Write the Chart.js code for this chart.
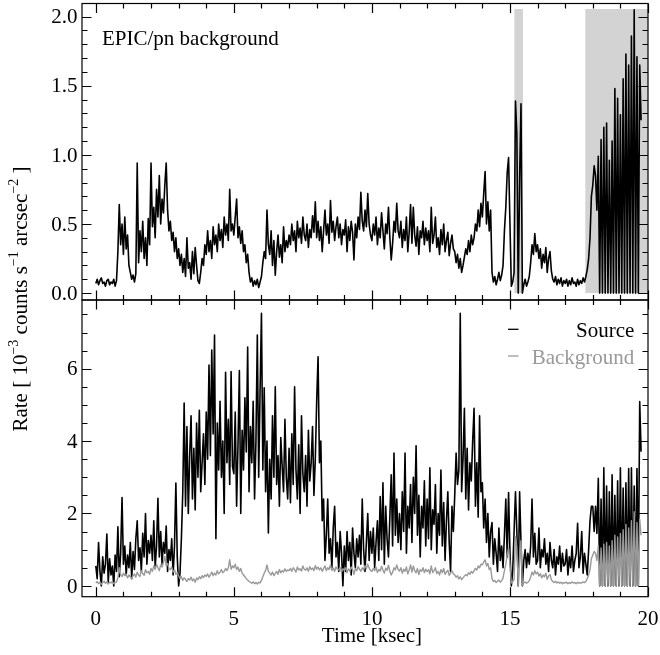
<!DOCTYPE html>
<html>
<head>
<meta charset="utf-8">
<title>EPIC/pn light curve</title>
<script src="https://cdn.jsdelivr.net/npm/chart.js@4.4.0/dist/chart.umd.min.js"></script>
<style>
  html, body { margin: 0; padding: 0; background: #fff; }
  #wrap { position: relative; width: 660px; height: 655px; }
  #wrap canvas { position: absolute; left: 0; top: 0; }
</style>
</head>
<body>
<div id="wrap">
  <canvas id="topPanel" width="660" height="655"></canvas>
  <canvas id="bottomPanel" width="660" height="655"></canvas>
</div>
<script>
// light curve bins are 50 s wide, first bin at t = 0 (ksec)
const binWidth = 0.05;

const timeTicks = [0, 5, 10, 15, 20];
const topRateTicks = [0.0, 0.5, 1.0, 1.5, 2.0];
const bottomRateTicks = [0, 2, 4, 6];

// intervals flagged for high background (ksec)
const flareStart = [15.16, 17.73];
const flareEnd = [15.47, 20.0];
const flareTop = 2.055;

// EPIC/pn background rate, one line = 1 ksec
const topRate = [
  0.07,0.10,0.06,0.09,0.11,0.07,0.08,0.05,0.09,0.10,0.06,0.08,0.07,0.10,0.05,0.09,0.30,0.64,0.35,0.50,
  0.28,0.55,0.32,0.42,0.20,0.15,0.10,0.13,0.08,0.14,0.94,0.22,0.45,0.30,0.52,0.25,0.40,0.20,0.54,0.35,
  0.94,0.48,0.62,0.40,0.75,0.55,0.85,0.50,0.68,0.58,0.78,0.94,0.60,0.45,0.52,0.38,0.44,0.30,0.40,0.25,
  0.32,0.20,0.28,0.15,0.25,0.12,0.40,0.18,0.22,0.10,0.30,0.14,0.33,0.20,0.09,0.07,0.15,0.25,0.20,0.35,
  0.28,0.45,0.30,0.38,0.25,0.48,0.35,0.42,0.30,0.50,0.38,0.46,0.33,0.55,0.42,0.50,0.38,0.75,0.45,0.50,
  0.42,0.55,0.68,0.40,0.48,0.36,0.45,0.30,0.35,0.22,0.28,0.15,0.08,0.11,0.05,0.09,0.06,0.10,0.04,0.08,
  0.12,0.22,0.30,0.25,0.60,0.35,0.28,0.45,0.20,0.38,0.13,0.30,0.42,0.26,0.35,0.22,0.48,0.30,0.38,0.33,
  0.42,0.35,0.50,0.38,0.45,0.30,0.52,0.40,0.47,0.36,0.55,0.42,0.38,0.50,0.33,0.46,0.40,0.56,0.44,0.66,
  0.40,0.52,0.38,0.48,0.30,0.45,0.60,0.42,0.50,0.36,0.67,0.44,0.52,0.38,0.48,0.55,0.40,0.50,0.35,0.46,
  0.42,0.53,0.30,0.48,0.38,0.52,0.44,0.24,0.50,0.40,0.55,0.46,0.73,0.52,0.45,0.60,0.48,0.72,0.50,0.42,
  0.38,0.50,0.42,0.55,0.35,0.47,0.40,0.58,0.45,0.32,0.50,0.43,0.62,0.40,0.24,0.36,0.52,0.44,0.65,0.45,
  0.40,0.52,0.33,0.46,0.38,0.55,0.30,0.44,0.64,0.36,0.62,0.42,0.34,0.48,0.28,0.45,0.40,0.52,0.35,0.47,
  0.38,0.45,0.30,0.62,0.36,0.42,0.55,0.33,0.40,0.28,0.46,0.35,0.50,0.30,0.38,0.44,0.27,0.36,0.42,0.32,
  0.30,0.22,0.28,0.18,0.25,0.15,0.20,0.26,0.32,0.28,0.38,0.30,0.42,0.35,0.40,0.50,0.45,0.60,0.48,0.65,
  0.55,0.72,0.88,0.50,0.66,0.45,0.60,0.15,0.08,0.12,0.06,0.10,0.15,0.09,0.13,0.20,0.45,0.62,0.87,0.98,
  0.50,0.05,0.08,0.15,1.39,1.15,0.00,0.82,1.37,0.00,0.06,0.10,0.05,0.08,0.12,0.22,0.35,0.28,0.43,0.30,
  0.35,0.25,0.32,0.18,0.28,0.22,0.33,0.15,0.25,0.30,0.16,0.10,0.08,0.12,0.06,0.10,0.07,0.11,0.05,0.09,
  0.07,0.10,0.05,0.09,0.06,0.11,0.07,0.08,0.05,0.10,0.06,0.09,0.07,0.11,0.08,0.12,0.17,0.25,0.40,0.70,
  0.78,0.92,0.85,0.60,0.99,0.00,1.11,0.00,1.20,0.00,1.23,0.00,0.96,0.00,1.10,0.00,1.48,0.00,1.41,0.00,
  1.29,0.00,1.55,0.00,1.73,0.00,1.65,0.00,1.86,0.00,2.05,0.00,1.71,0.00,1.65,1.25
];

// source rate, same bins
const sourceRate = [
  0.55,0.20,1.20,0.40,0.00,0.80,0.35,0.60,1.43,0.10,0.75,0.30,0.55,0.00,0.85,0.40,1.63,0.25,0.90,2.44,
  0.60,1.10,0.30,0.85,0.50,1.20,0.20,0.95,0.45,1.30,1.80,0.70,1.05,0.40,1.45,0.80,2.00,0.60,1.25,0.90,
  1.40,0.70,1.80,0.50,1.10,2.42,0.80,1.50,0.60,1.20,0.90,1.65,0.40,1.00,0.70,1.30,0.30,1.10,2.84,0.80,
  0.00,0.35,1.30,2.60,5.05,2.20,4.40,2.00,3.60,4.70,2.40,3.80,2.10,4.50,3.00,4.85,2.60,3.40,4.20,2.80,
  4.80,3.50,6.10,3.60,6.52,4.20,6.93,1.30,4.50,3.20,5.10,3.00,4.00,2.00,5.90,3.40,4.60,2.80,5.92,3.30,
  3.10,4.80,2.20,3.90,5.95,2.00,4.30,3.20,5.20,3.70,6.60,2.60,4.40,3.40,5.10,2.40,4.00,6.93,3.00,5.40,
  7.53,3.20,5.47,2.60,4.00,1.46,3.50,2.40,4.70,3.00,5.50,2.80,3.60,2.20,4.10,3.30,2.60,4.60,3.00,2.40,
  3.80,2.30,4.20,2.80,5.50,3.20,2.40,3.90,2.00,4.70,3.10,2.60,3.60,2.20,4.30,2.90,3.40,4.40,2.50,3.50,
  5.10,6.33,3.40,4.00,1.80,2.40,0.70,1.40,2.40,0.90,1.30,0.50,1.60,2.20,0.80,1.20,0.40,1.50,0.90,0.00,
  1.10,0.40,1.50,0.70,1.20,0.30,1.60,0.90,0.50,1.30,0.80,1.40,0.60,2.40,1.00,0.40,1.20,2.00,0.70,1.50,
  0.90,1.60,0.50,1.20,1.80,0.70,2.47,1.00,2.85,0.60,2.20,1.30,0.80,1.90,3.07,1.10,3.67,1.40,2.40,1.20,
  2.00,1.00,2.60,1.50,3.67,0.90,2.20,1.60,2.80,1.20,3.00,2.00,3.87,1.40,2.50,0.80,2.20,1.60,2.90,1.10,
  2.40,1.30,3.26,1.00,2.10,1.70,2.80,0.90,2.00,1.40,3.20,1.10,2.30,0.70,1.80,2.60,1.20,0.40,2.20,1.50,
  2.50,3.67,2.80,3.20,7.53,2.60,3.50,4.91,2.40,3.80,2.10,3.40,2.90,4.00,4.91,2.20,3.40,1.90,4.70,2.60,
  2.85,1.60,2.40,1.20,2.00,0.80,1.50,1.75,0.60,1.30,0.90,0.40,1.60,0.70,1.10,0.50,1.40,2.40,0.80,2.58,
  0.90,0.00,0.40,1.50,2.60,1.50,0.00,2.60,1.20,0.00,0.70,1.00,0.50,0.90,0.60,1.10,2.40,0.80,1.45,0.60,
  0.70,1.60,0.50,1.00,0.80,1.30,0.60,0.90,0.40,1.20,0.70,0.50,1.00,0.30,0.80,0.60,1.10,0.40,0.90,0.55,
  0.60,1.00,0.30,0.80,0.50,1.10,0.40,0.70,0.90,1.73,0.50,0.80,1.50,0.35,0.90,0.60,0.30,1.00,1.80,2.20,
  2.20,1.50,2.20,1.45,2.97,0.00,2.40,0.00,3.26,0.00,2.76,0.00,2.60,0.00,3.07,0.00,2.50,0.00,2.90,0.00,
  3.26,0.00,2.70,0.00,2.85,0.00,3.24,0.00,3.26,0.00,2.76,0.00,3.24,0.00,5.09,3.71
];

// background region rate, same bins
const bgRate = [
  0.08,0.12,0.06,0.10,0.04,0.09,0.13,0.07,0.11,0.05,0.10,0.08,0.12,0.06,0.09,0.11,0.22,0.50,0.30,0.26,
  0.35,0.28,0.32,0.22,0.30,0.25,0.20,0.28,0.33,0.24,0.38,0.30,0.26,0.42,0.34,0.29,0.45,0.36,0.40,0.32,
  0.48,0.40,0.55,0.45,0.60,0.50,0.42,0.58,0.52,0.65,0.81,0.55,0.62,0.48,0.45,0.52,0.38,0.44,0.32,0.36,
  0.28,0.20,0.25,0.15,0.22,0.18,0.12,0.20,0.16,0.24,0.14,0.19,0.10,0.22,0.17,0.25,0.20,0.28,0.23,0.30,
  0.26,0.33,0.24,0.30,0.38,0.28,0.35,0.30,0.42,0.33,0.38,0.45,0.36,0.40,0.48,0.42,0.50,0.72,0.46,0.55,
  0.50,0.60,0.45,0.52,0.40,0.48,0.35,0.30,0.25,0.20,0.16,0.12,0.10,0.07,0.11,0.06,0.09,0.05,0.10,0.08,
  0.15,0.25,0.35,0.42,0.58,0.40,0.35,0.30,0.38,0.28,0.34,0.40,0.32,0.45,0.36,0.42,0.38,0.47,0.40,0.44,
  0.42,0.48,0.40,0.50,0.45,0.38,0.52,0.44,0.47,0.41,0.55,0.46,0.43,0.50,0.40,0.53,0.45,0.49,0.42,0.56,
  0.46,0.52,0.44,0.50,0.40,0.48,0.55,0.42,0.50,0.45,0.58,0.43,0.49,0.40,0.52,0.46,0.44,0.51,0.38,0.47,
  0.43,0.50,0.36,0.47,0.41,0.52,0.45,0.32,0.48,0.42,0.53,0.46,0.40,0.50,0.44,0.56,0.47,0.60,0.49,0.43,
  0.40,0.48,0.42,0.52,0.37,0.45,0.41,0.54,0.44,0.35,0.49,0.43,0.57,0.40,0.30,0.38,0.50,0.44,0.58,0.45,
  0.41,0.50,0.35,0.46,0.40,0.52,0.33,0.44,0.58,0.38,0.55,0.42,0.36,0.48,0.31,0.45,0.40,0.50,0.37,0.46,
  0.39,0.45,0.33,0.55,0.37,0.42,0.50,0.34,0.40,0.30,0.45,0.36,0.48,0.32,0.38,0.43,0.29,0.36,0.41,0.33,
  0.30,0.24,0.28,0.19,0.25,0.17,0.22,0.27,0.31,0.28,0.36,0.32,0.40,0.35,0.42,0.48,0.44,0.55,0.50,0.60,
  0.58,0.66,0.72,0.55,0.62,0.45,0.50,0.20,0.12,0.15,0.09,0.13,0.16,0.10,0.14,0.22,0.42,0.60,0.85,1.05,
  0.60,0.08,0.12,0.18,1.36,1.08,0.00,0.82,1.25,0.00,0.08,0.11,0.07,0.10,0.14,0.24,0.38,0.30,0.42,0.33,
  0.38,0.27,0.34,0.22,0.30,0.25,0.35,0.18,0.27,0.31,0.17,0.12,0.09,0.13,0.08,0.11,0.07,0.10,0.06,0.09,
  0.08,0.10,0.06,0.09,0.07,0.11,0.08,0.09,0.06,0.10,0.07,0.09,0.08,0.11,0.09,0.12,0.20,0.30,0.45,0.75,
  0.85,0.95,0.90,0.70,1.10,0.00,1.05,0.00,1.15,0.00,1.20,0.00,1.10,0.00,1.25,0.00,1.40,0.00,1.35,0.00,
  1.45,0.00,1.55,0.00,1.70,0.00,1.60,0.00,1.80,0.00,2.05,0.00,1.75,0.00,1.84,1.40
];

const FONT = '"Liberation Serif", "Times New Roman", Times, serif';
const GREY = '#999999';
const BAND = '#d3d3d3';

const toPoints = (rates) => rates.map((r, i) => ({ x: i * binWidth, y: r }));

// y title with superscripts
const yTitleParts = [
  ['Rate [ 10', false], ['\u22123', true], [' counts s', false], ['\u22121', true],
  [' arcsec', false], ['\u22122', true], [' ]', false]
];

function drawYTitle(ctx, cx, cy) {
  const big = '21px ' + FONT, small = '14px ' + FONT;
  let total = 0;
  yTitleParts.forEach(([t, sup]) => {
    ctx.font = sup ? small : big;
    total += ctx.measureText(t).width;
  });
  ctx.save();
  ctx.translate(cx, cy);
  ctx.rotate(-Math.PI / 2);
  ctx.fillStyle = '#000';
  ctx.textAlign = 'left';
  ctx.textBaseline = 'alphabetic';
  let x = -total / 2;
  yTitleParts.forEach(([t, sup]) => {
    ctx.font = sup ? small : big;
    ctx.fillText(t, x, sup ? -9 : 0);
    x += ctx.measureText(t).width;
  });
  ctx.restore();
}

// IDL style box: inward ticks on all four sides, labels left and (optionally) bottom
function panelFrame(cfg) {
  return {
    id: 'panelFrame',
    beforeDatasetsDraw(chart) {
      if (!cfg.bands) return;
      const { ctx } = chart;
      const xs = chart.scales.x, ys = chart.scales.y;
      ctx.save();
      ctx.fillStyle = BAND;
      flareStart.forEach((s, i) => {
        const x1 = xs.getPixelForValue(s), x2 = xs.getPixelForValue(flareEnd[i]);
        const y1 = ys.getPixelForValue(flareTop), y2 = ys.getPixelForValue(0);
        ctx.fillRect(x1, y1, x2 - x1, y2 - y1);
      });
      ctx.restore();
    },
    afterDraw(chart) {
      const { ctx, chartArea: a } = chart;
      const xs = chart.scales.x, ys = chart.scales.y;
      ctx.save();
      ctx.strokeStyle = '#000';
      ctx.lineWidth = 1.2;
      ctx.strokeRect(a.left, a.top, a.right - a.left, a.bottom - a.top);

      ctx.beginPath();
      // time ticks every 1 ksec
      for (let t = 0; t <= 20; t++) {
        const len = timeTicks.includes(t) ? 9.5 : 5;
        const x = Math.round(xs.getPixelForValue(t)) + 0.5;
        ctx.moveTo(x, a.bottom); ctx.lineTo(x, a.bottom - len);
        ctx.moveTo(x, a.top); ctx.lineTo(x, a.top + len);
      }
      // rate ticks
      for (let i = 0; i <= cfg.minorCount; i++) {
        const v = i * cfg.minorStep;
        const major = cfg.yTicks.some(m => Math.abs(m - v) < 1e-6);
        const len = major ? 9.5 : 5.5;
        const y = Math.round(ys.getPixelForValue(v)) + 0.5;
        ctx.moveTo(a.left, y); ctx.lineTo(a.left + len, y);
        ctx.moveTo(a.right, y); ctx.lineTo(a.right - len, y);
      }
      ctx.stroke();

      ctx.fillStyle = '#000';
      ctx.font = '21px ' + FONT;
      ctx.textAlign = 'right';
      ctx.textBaseline = 'alphabetic';
      cfg.yTicks.forEach(v => {
        ctx.fillText(v.toFixed(cfg.digits), a.left - 4.5, ys.getPixelForValue(v) + 6.7);
      });

      if (cfg.timeLabels) {
        ctx.textAlign = 'center';
        timeTicks.forEach(t => ctx.fillText(String(t), xs.getPixelForValue(t), 625));
        const mid = (xs.getPixelForValue(timeTicks[0]) + xs.getPixelForValue(timeTicks[timeTicks.length - 1])) / 2;
        ctx.fillText('Time [ksec]', mid, 641.5);
      }

      if (cfg.note) {
        ctx.textAlign = 'left';
        ctx.fillText(cfg.note, a.left + 20, 44.5);
      }

      if (cfg.legend) {
        const rows = [chart.data.datasets[1], chart.data.datasets[0]];
        rows.forEach((ds, i) => {
          const yb = 337.3 + i * 26.7;
          ctx.strokeStyle = ds.borderColor;
          ctx.lineWidth = 1.3;
          ctx.beginPath();
          ctx.moveTo(508, yb - 8); ctx.lineTo(518.5, yb - 8);
          ctx.stroke();
          ctx.fillStyle = ds.borderColor;
          ctx.textAlign = 'right';
          ctx.fillText(ds.label, 634.3, yb);
        });
      }

      if (cfg.yTitle) drawYTitle(ctx, 26.5, 299);
      ctx.restore();
    }
  };
}

const baseOptions = (yMin, yMax, padding) => ({
  responsive: false,
  devicePixelRatio: 1,
  animation: false,
  events: [],
  layout: { padding },
  plugins: { legend: { display: false }, tooltip: { enabled: false } },
  scales: {
    x: { type: 'linear', min: -0.5, max: 20, display: false },
    y: { type: 'linear', min: yMin, max: yMax, display: false }
  },
  elements: { point: { radius: 0 }, line: { tension: 0, borderJoinStyle: 'round' } }
});

new Chart(document.getElementById('topPanel'), {
  type: 'line',
  data: {
    datasets: [{
      label: 'EPIC/pn background',
      data: toPoints(topRate),
      borderColor: '#000',
      borderWidth: 1.6,
      fill: false
    }]
  },
  options: baseOptions(-0.05, 2.095, { left: 82, right: 12, top: 3.5, bottom: 355 }),
  plugins: [panelFrame({
    yTicks: topRateTicks, minorStep: 0.1, minorCount: 20, digits: 1,
    bands: true, note: 'EPIC/pn background'
  })]
});

new Chart(document.getElementById('bottomPanel'), {
  type: 'line',
  data: {
    datasets: [
      {
        label: 'Background',
        data: toPoints(bgRate),
        borderColor: GREY,
        borderWidth: 1.4,
        fill: false,
        order: 0
      },
      {
        label: 'Source',
        data: toPoints(sourceRate),
        borderColor: '#000',
        borderWidth: 1.6,
        fill: false,
        order: 1
      }
    ]
  },
  options: baseOptions(-0.3, 7.9, { left: 82, right: 12, top: 300, bottom: 58.3 }),
  plugins: [panelFrame({
    yTicks: bottomRateTicks, minorStep: 0.5, minorCount: 15, digits: 0,
    timeLabels: true, legend: true, yTitle: true
  })]
});
</script>
</body>
</html>
